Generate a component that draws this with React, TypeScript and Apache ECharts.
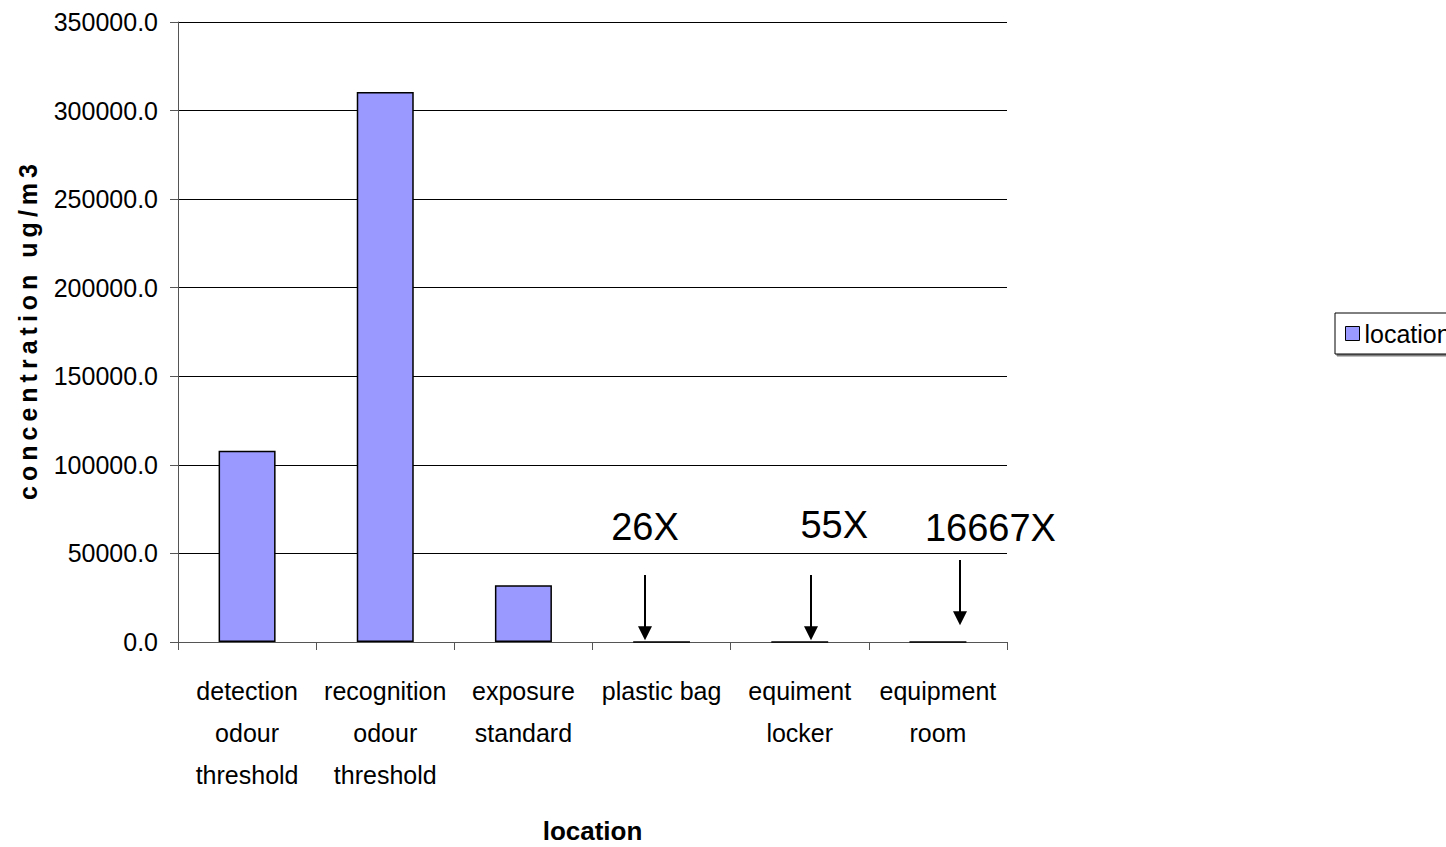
import React, { useEffect, useRef } from "react";
import * as echarts from "echarts";

const categories = [
  "detection\nodour\nthreshold",
  "recognition\nodour\nthreshold",
  "exposure\nstandard",
  "plastic bag",
  "equiment\nlocker",
  "equipment\nroom",
];
const values = [108000, 310500, 32000, 123, 58, 0.19];
const seriesName = "location";
const yTicks = { min: 0, max: 350000, interval: 50000 };
const annoLabels = ["26X", "55X", "16667X"];
const annoCategory = [3, 4, 5];
const annoArrowTop = [37800, 37800, 46300];
const annoArrowTip = [1000, 1000, 9500];
const annoLabelValue = [65000, 66000, 64500];
const annoArrowOffset = [-0.12, 0.08, 0.16];
const annoLabelOffset = [-0.12, 0.25, 0.38];

const SANS = '"Liberation Sans", Arial, Helvetica, sans-serif';

export default function App() {
  const ref = useRef<HTMLDivElement>(null);
  useEffect(() => {
    if (!ref.current) return;
    const chart = echarts.init(ref.current, null, { renderer: "svg" });
    const yName = "concentration ug/m3".split("").join("\u2009");
    chart.setOption({
      animation: false,
      backgroundColor: "#ffffff",
      grid: {
        left: 178,
        top: 22,
        right: 439,
        bottom: 205,
        containLabel: false,
        outerBoundsMode: "none",
      },
      legend: {
        left: 1335,
        top: 313,
        orient: "vertical",
        icon: "rect",
        itemWidth: 14,
        itemHeight: 14,
        padding: [8, 8, 8, 10],
        borderColor: "#000",
        borderWidth: 1,
        backgroundColor: "#fff",
        shadowColor: "rgba(0,0,0,0.5)",
        shadowOffsetX: 2,
        shadowOffsetY: 2,
        shadowBlur: 0,
        textStyle: { fontFamily: SANS, fontSize: 25, color: "#000" },
        data: [{ name: seriesName, itemStyle: { color: "#9999FF", borderColor: "#000", borderWidth: 1 } }],
      },
      xAxis: {
        type: "category",
        data: categories,
        name: "location",
        nameLocation: "middle",
        nameGap: 176,
        nameTextStyle: { fontFamily: SANS, fontSize: 26, fontWeight: "bold", color: "#000" },
        axisLine: { lineStyle: { color: "#555", width: 1 } },
        axisTick: { show: true, length: 8, alignWithLabel: false, lineStyle: { color: "#555" } },
        axisLabel: {
          interval: 0,
          margin: 28,
          fontFamily: SANS,
          fontSize: 25,
          lineHeight: 42,
          color: "#000",
        },
      },
      yAxis: {
        type: "value",
        min: yTicks.min,
        max: yTicks.max,
        interval: yTicks.interval,
        name: yName,
        nameLocation: "middle",
        nameGap: 138,
        nameTextStyle: { fontFamily: SANS, fontSize: 25, fontWeight: "bold", color: "#000" },
        axisLine: { show: true, lineStyle: { color: "#555", width: 1 } },
        axisTick: { show: true, length: 8, lineStyle: { color: "#555" } },
        axisLabel: {
          margin: 20,
          fontFamily: SANS,
          fontSize: 25,
          color: "#000",
          formatter: (v: number) => v.toFixed(1),
        },
        splitLine: { show: true, lineStyle: { color: "#000", width: 1 } },
      },
      series: [
        {
          name: seriesName,
          type: "bar",
          data: values,
          barWidth: 57,
          itemStyle: { color: "#9999FF", borderColor: "#000", borderWidth: 1.5 },
        },
      ],
    });

    const graphics: any[] = [];
    const p0 = chart.convertToPixel({ gridIndex: 0 }, [0, 0]) as number[];
    const p1 = chart.convertToPixel({ gridIndex: 0 }, [1, 0]) as number[];
    const band = p1[0] - p0[0];
    annoLabels.forEach((label, i) => {
      const c = annoCategory[i];
      const top = chart.convertToPixel({ gridIndex: 0 }, [c, annoArrowTop[i]]) as number[];
      const tip = chart.convertToPixel({ gridIndex: 0 }, [c, annoArrowTip[i]]) as number[];
      const lab = chart.convertToPixel({ gridIndex: 0 }, [c, annoLabelValue[i]]) as number[];
      const x = Math.round(top[0] + annoArrowOffset[i] * band);
      graphics.push({
        type: "line",
        shape: { x1: x, y1: top[1], x2: x, y2: tip[1] - 12 },
        style: { stroke: "#000", lineWidth: 2 },
      });
      graphics.push({
        type: "polygon",
        shape: { points: [[x - 7, tip[1] - 14], [x + 7, tip[1] - 14], [x, tip[1]]] },
        style: { fill: "#000" },
      });
      graphics.push({
        type: "text",
        x: lab[0] + annoLabelOffset[i] * band,
        y: lab[1],
        style: {
          text: label,
          fontFamily: SANS,
          fontSize: 38,
          fill: "#000",
          align: "center",
          verticalAlign: "middle",
        },
      });
    });
    chart.setOption({ graphic: graphics });
    return () => chart.dispose();
  }, []);
  return <div ref={ref} style={{ position: "fixed", left: 0, top: 0, width: 1446, height: 847 }} />;
}
